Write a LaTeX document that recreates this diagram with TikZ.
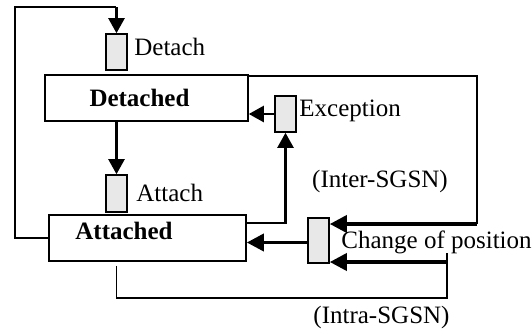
\documentclass[tikz,border=0pt]{standalone}
\usepackage{fontspec}
\setmainfont{Liberation Serif}
\usetikzlibrary{arrows.meta, positioning, calc}

\begin{document}
\begin{tikzpicture}[x=0.5pt, y=-0.5pt,
        font=\fontsize{12.5}{14}\selectfont,
        statebox/.style={rectangle, draw, line width=0.8pt, inner sep=0pt, minimum height=23pt},
        eventbox/.style={rectangle, draw, line width=0.8pt, fill=gray!18, inner sep=0pt, minimum width=10.5pt},
        wire/.style={line width=0.8pt},
        flow/.style={-{Triangle[length=7.5pt, width=8pt]}, line width=1.2pt},
        bigflow/.style={-{Triangle[length=8.5pt, width=8.5pt]}, line width=1.8pt}]
        \useasboundingbox (0,0) rectangle (532,334);
        % states
        \node[statebox, minimum width=101.5pt] (detached) at (146.5,98) {};
        \node[font=\fontsize{12.5}{14}\selectfont\bfseries] (detachedtext) at (139.5,98) {Detached};
        \node[statebox, minimum width=98.5pt] (attached) at (147.5,238) {};
        \node[font=\fontsize{12.5}{14}\selectfont\bfseries] (attachedtext) at (124,231) {Attached};
        % events
        \node[eventbox, minimum height=18pt] (detachev) at (116.5,52) {};
        \node[eventbox, minimum height=18.5pt] (attachev) at (116.5,193.5) {};
        \node[eventbox, minimum height=18pt] (exceptev) at (285.5,114) {};
        \node[eventbox, minimum height=22.5pt] (changeev) at (318.5,240.5) {};
        % labels
        \node[anchor=west, inner sep=0pt] (detachlbl) at (134,47) {Detach};
        \node[anchor=west, inner sep=0pt] (attachlbl) at (136,193) {Attach};
        \node[anchor=west, inner sep=0pt] (exceptlbl) at (299,111) {Exception};
        \node[anchor=west, inner sep=0pt] (changelbl) at (341,242) {Change of position};
        \node (interlbl) at (380,181) {(Inter-SGSN)};
        \node (intralbl) at (381.5,317) {(Intra-SGSN)};
        \coordinate (inter) at (477,224);
        \coordinate (intra) at (447,262);
        % connectors
        \draw[wire] (attached.west) -| (15,7) -- (116.5,7);
        \draw[flow] (116.5,7) -- (detachev.north);
        \draw[flow] (attachev.north |- detached.south) -- (attachev.north);
        \draw[wire] ([yshift=-1pt]detached.north east) -| (inter);
        \draw[bigflow] (inter) -- (inter -| changeev.east);
        \draw[wire] ([yshift=-2pt]attachev.south |- attached.south) |- (447,298) -- (447,253);
        \draw[bigflow] (intra) -- (intra -| changeev.east);
        \draw[flow] ([yshift=7.5pt]attached.east) -| (exceptev.south);
        \draw[flow] (exceptev.west) -- (exceptev.west -| detached.east);
        \draw[bigflow] ([yshift=-1pt]changeev.west) -- ([yshift=-1pt]changeev.west -| attached.east);
\end{tikzpicture}
\end{document}
